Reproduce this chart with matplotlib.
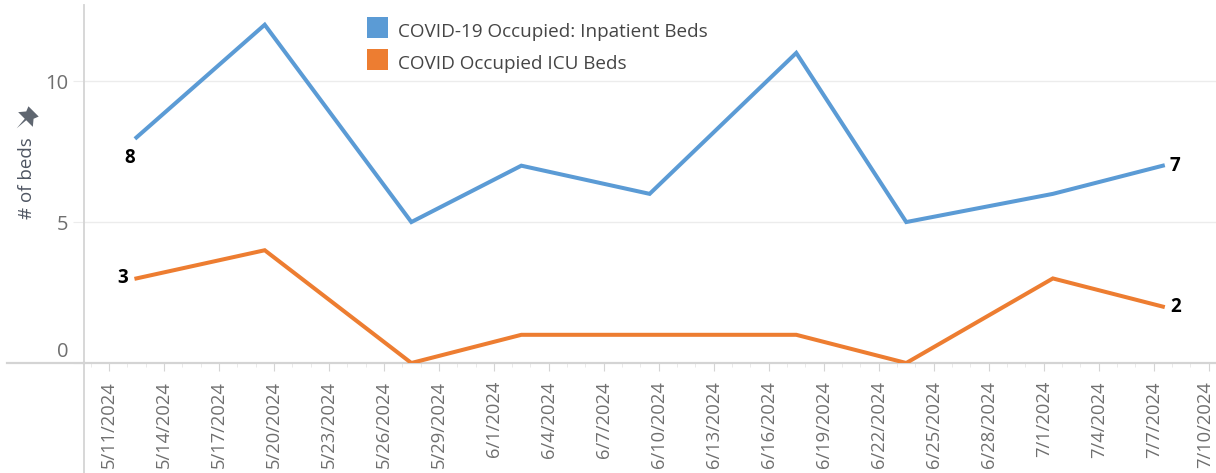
import matplotlib
matplotlib.use("Agg")
import matplotlib.pyplot as plt
import matplotlib.dates as mdates
import matplotlib.transforms as mtransforms
from matplotlib.patches import Rectangle
from matplotlib.lines import Line2D
from matplotlib.path import Path
import pandas as pd

# ---- data ----
report_dates = ["2024-05-12", "2024-05-19", "2024-05-27", "2024-06-02", "2024-06-09",
                "2024-06-17", "2024-06-23", "2024-07-01", "2024-07-07"]
inpatient_beds = [8, 12, 5, 7, 6, 11, 5, 6, 7]
icu_beds = [3, 4, 0, 1, 1, 1, 0, 3, 2]
series_names = ["COVID-19 Occupied: Inpatient Beds", "COVID Occupied ICU Beds"]
y_ticks = [0, 5, 10]
axis_start = "2024-05-11"
axis_end = "2024-07-10"

BLUE = "#5b9bd5"
ORANGE = "#ed7d31"
series_colors = [BLUE, ORANGE]
FONT = ["Open Sans", "DejaVu Sans"]
plt.rcParams["font.family"] = FONT

W, H = 1216, 473
fig = plt.figure(figsize=(W / 100, H / 100), dpi=100)
ax = fig.add_axes([84 / W, 110 / H, (W - 84) / W, 358 / H])

# points sit at mid-day in Tableau's continuous date axis
x = pd.to_datetime(report_dates) + pd.Timedelta(hours=12)
ax.plot(x, inpatient_beds, color=BLUE, lw=2.9, solid_joinstyle="miter", zorder=3)
ax.plot(x, icu_beds, color=ORANGE, lw=2.9, solid_joinstyle="miter", zorder=3)

start = pd.Timestamp(axis_start)
ax.set_xlim(start - pd.Timedelta(days=1.36), start + pd.Timedelta(days=60.4))
ax.set_ylim(0, 12.7)

# axes styling
for s in ["top", "right"]:
    ax.spines[s].set_visible(False)
ax.spines["left"].set_color("#d4d4d4")
ax.spines["bottom"].set_color("#d4d4d4")
ax.spines["left"].set_linewidth(1.3)
ax.spines["bottom"].set_linewidth(1.6)

ax.set_yticks(y_ticks)
ax.yaxis.grid(True, color="#ececec", lw=1.0)
ax.set_axisbelow(True)
ax.tick_params(axis="y", length=8, color="#ececec", pad=3, labelsize=14.5,
               labelcolor="#6f6f6f")
# bottom label sits above the zero line as in Tableau
lbl0 = ax.get_yticklabels()[0]
lbl0.set_transform(lbl0.get_transform() +
                   mtransforms.ScaledTranslation(0, 14 / 100, fig.dpi_scale_trans))

tick_dates = pd.date_range(axis_start, axis_end, freq="3D")
ax.set_xticks(tick_dates)
ax.set_xticklabels([f"{d.month}/{d.day}/{d.year}" for d in tick_dates],
                   rotation=90, fontsize=13.2, color="#6f6f6f")
ax.xaxis.set_minor_locator(mdates.DayLocator())
ax.tick_params(axis="x", which="major", length=6, color="#d4d4d4", pad=7)
ax.tick_params(axis="x", which="minor", length=3, color="#e6e6e6")
# last label nudged inside the canvas
lastlbl = ax.get_xticklabels()[-1]
lastlbl.set_transform(lastlbl.get_transform() +
                      mtransforms.ScaledTranslation(-4 / 100, 0, fig.dpi_scale_trans))

# extended axis lines (Tableau style)
fig.add_artist(Line2D([84 / W, 84 / W], [0, 110 / H], color="#d4d4d4", lw=1.3,
                      transform=fig.transFigure))
fig.add_artist(Line2D([7 / W, 84 / W], [110 / H, 110 / H], color="#d4d4d4", lw=1.6,
                      transform=fig.transFigure))

# y label with pin
fig.text(27 / W, (473 - 178) / H, "# of beds", rotation=90, ha="center", va="center",
         fontsize=13.5, color="#4f5663")
pin = Path([(-0.35, 0.55), (0.35, 0.55), (0.25, 0.3), (0.5, 0.0), (0.05, 0.0),
            (0.0, -0.6), (-0.05, 0.0), (-0.5, 0.0), (-0.25, 0.3), (-0.35, 0.55)])
pin = pin.transformed(mtransforms.Affine2D().rotate_deg(-45))
fig.add_artist(Line2D([25 / W], [(473 - 119) / H], marker=pin, markersize=19,
                      color="#5f6670", markeredgewidth=0, ls="none",
                      transform=fig.transFigure))

# data labels
lab_kw = dict(textcoords="offset points", fontsize=13.5, fontweight="bold", color="black",
              ha="center", va="center")
ax.annotate(str(inpatient_beds[0]), (x[0], inpatient_beds[0]), xytext=(-5, -14.5), **lab_kw)
ax.annotate(str(icu_beds[0]), (x[0], icu_beds[0]), xytext=(-10, 0), **lab_kw)
ax.annotate(str(inpatient_beds[-1]), (x[-1], inpatient_beds[-1]), xytext=(9, 0), **lab_kw)
ax.annotate(str(icu_beds[-1]), (x[-1], icu_beds[-1]), xytext=(9, 0), **lab_kw)

# legend (Tableau colour legend drawn in figure pixels)
for i, (name, col) in enumerate(zip(series_names, series_colors)):
    top_px = 17 + 32 * i
    fig.add_artist(Rectangle((367 / W, (H - top_px - 21.5) / H), 21.5 / W, 21.5 / H,
                             facecolor=col, edgecolor="none", transform=fig.transFigure))
    fig.text(398 / W, (H - (top_px + 13)) / H, name, ha="left", va="center_baseline",
             fontsize=13.6, color="#454545")

fig.savefig("out.png", dpi=100)
